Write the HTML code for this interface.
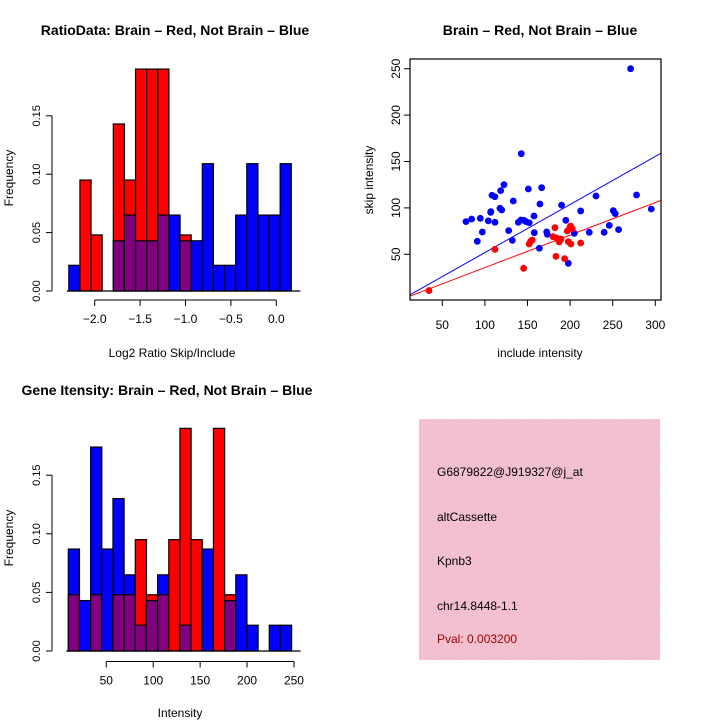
<!DOCTYPE html>
<html><head><meta charset="utf-8"><style>
html,body{margin:0;padding:0;background:#fff;}
svg{display:block;font-family:"Liberation Sans",sans-serif;}
</style></head><body>
<svg id="root" width="720" height="720" viewBox="0 0 720 720">
<text x="175" y="35" text-anchor="middle" font-size="14" font-weight="bold">RatioData: Brain – Red, Not Brain – Blue</text>
<text x="540" y="35" text-anchor="middle" font-size="14" font-weight="bold">Brain – Red, Not Brain – Blue</text>
<text x="167" y="395" text-anchor="middle" font-size="14" font-weight="bold">Gene Itensity: Brain – Red, Not Brain – Blue</text>
<text x="172" y="357" text-anchor="middle" font-size="12">Log2 Ratio Skip/Include</text>
<text transform="translate(13,178) rotate(-90)" text-anchor="middle" font-size="12">Frequency</text>
<text x="540" y="357" text-anchor="middle" font-size="12">include intensity</text>
<text transform="translate(373,180) rotate(-90)" text-anchor="middle" font-size="12">skip intensity</text>
<text x="180" y="717" text-anchor="middle" font-size="12">Intensity</text>
<text transform="translate(13,538) rotate(-90)" text-anchor="middle" font-size="12">Frequency</text>
<defs><pattern id="hatch" width="3" height="3" patternUnits="userSpaceOnUse"><rect width="3" height="3" fill="#f6bccd"/><rect width="1" height="1" fill="#e6ccd6"/><rect x="2" y="2" width="1" height="1" fill="#e6ccd6"/></pattern></defs>
<rect x="419" y="419" width="241" height="241" fill="url(#hatch)"/>
<text x="437" y="476" font-size="12">G6879822@J919327@j_at</text>
<text x="437" y="521" font-size="12">altCassette</text>
<text x="437" y="565" font-size="12">Kpnb3</text>
<text x="437" y="610" font-size="12">chr14.8448-1.1</text>
<text x="437" y="643" font-size="12" fill="#a00000">Pval: 0.003200</text>
<g id="g"></g>
</svg>
<script>
// Ratio histogram data
const ratioBinStart = -2.285, ratioBinWidth = 0.1225;
const ratioBlue = [0.022,0,0,0,0.043,0.065,0.043,0.043,0.065,0.065,0.043,0.043,0.109,0.022,0.022,0.065,0.109,0.065,0.065,0.109];
const ratioRed = [0,0.095,0.048,0,0.143,0.095,0.19,0.19,0.19,0,0.048,0,0,0,0,0,0,0,0,0];
const ratioXTicks = [-2.0,-1.5,-1.0,-0.5,0.0];
const ratioXLabels = ["\u22122.0","\u22121.5","\u22121.0","\u22120.5","0.0"];
const freqTicks = [0,0.05,0.10,0.15];
const freqLabels = ["0.00","0.05","0.10","0.15"];
// Intensity histogram data
const intBinStart = 9.5, intBinWidth = 11.9;
const intBlue = [0.087,0.043,0.174,0.087,0.13,0.065,0.022,0.043,0.065,0,0.022,0,0.087,0,0.043,0.065,0.022,0,0.022,0.022];
const intRed = [0.048,0,0.048,0,0.048,0.048,0.095,0.048,0.048,0.095,0.19,0.095,0,0.19,0.048,0,0,0,0,0];
const intXTicks = [50,100,150,200,250];
// Scatter data
const blueX = [77.8,84.4,94.6,91.1,97,104,106.7,107,108.3,111.8,111.8,118.5,122.4,117.7,119.7,127.9,133.3,132.2,142.7,139.2,142.3,145.8,148.2,152,151,157.6,158,163.9,164.6,166.6,172.5,173.2,190,195,197.9,204.9,212.4,222.5,230.4,240,246,250.7,253,256.9,271,278,295.3];
const blueY = [85.2,88,88.8,64,74,86,95.2,96,113.6,112,84.5,118.6,125,99.6,97.8,75.5,107.4,65,158.4,84.5,87,86.6,85.2,84,120.4,91.3,73.3,56.5,104.2,121.8,74.1,71.5,103,86.6,40.3,72.6,96.7,73.7,112.8,73.7,81.2,97,93.8,76.6,250,113.9,98.8];
const redX = [34.4,111.8,145.5,152,153.7,155.6,182.2,183.4,184.2,186.2,187.3,189.3,193.6,196.7,197.9,199.8,201,200.6,202.5,212.4,180];
const redY = [10.9,55.4,34.9,61.1,64,65.4,78.7,47.8,67.6,65.4,63.3,66.5,45.3,75.1,63.6,79.1,61.1,80.5,77.6,62.2,69];
const blueFit = [0.05, 0.518];
const redFit = [0.7, 0.35];
const scXTicks = [50,100,150,200,250,300];
const scYTicks = [50,100,150,200,250];

const NS="http://www.w3.org/2000/svg", G=document.getElementById('g');
function el(t,a,p){const e=document.createElementNS(NS,t);for(const k in a)e.setAttribute(k,a[k]);(p||G).appendChild(e);return e;}

function hist(o){
  const sx=v=>o.x0+(v-o.d0)*o.kx, sy=v=>o.base-v*o.ky;
  for(let i=0;i<o.blue.length;i++){
    const a=o.binStart+i*o.binW, b=a+o.binW;
    const x=sx(a), w=sx(b)-sx(a);
    const bl=o.blue[i], rd=o.red[i], mn=Math.min(bl,rd), mx=Math.max(bl,rd);
    if(mx<=0) continue;
    const top=el('rect',{x:x,y:sy(mx),width:w,height:sy(0)-sy(mx),fill:bl>=rd?'#0000ff':'#ff0000',stroke:'#000','stroke-width':1.2});
    
    
    if(mn>0){
      const p=el('rect',{x:x,y:sy(mn),width:w,height:sy(0)-sy(mn),fill:'#800080',stroke:'#000','stroke-width':1.2});
      
      
    }
  }
  el('line',{x1:sx(o.binStart)-2,x2:sx(o.binStart+o.blue.length*o.binW)+9,y1:o.base,y2:o.base,stroke:'#000','stroke-width':1.2});
  el('line',{x1:52,x2:52,y1:sy(0),y2:sy(0.15),stroke:'#000'});
  freqTicks.forEach((t,i)=>{el('line',{x1:46,x2:52,y1:sy(t),y2:sy(t),stroke:'#000'});
    const tx=el('text',{transform:`translate(40,${sy(t)}) rotate(-90)`,'text-anchor':'middle','font-size':11});tx.textContent=freqLabels[i];
    
    });
  const ax=o.xTicks;
  el('line',{x1:sx(ax[0]),x2:sx(ax[ax.length-1]),y1:o.axY,y2:o.axY,stroke:'#000'});
  ax.forEach((t,i)=>{el('line',{x1:sx(t),x2:sx(t),y1:o.axY,y2:o.axY+6,stroke:'#000'});
    const tx=el('text',{x:sx(t),y:o.axY+23,'text-anchor':'middle','font-size':12});tx.textContent=o.xLabels[i];
    
    });
}
hist({name:'ratio',blue:ratioBlue,red:ratioRed,binStart:ratioBinStart,binW:ratioBinWidth,x0:94.7,d0:-2.0,kx:90.8,base:291,ky:1168,axY:300,xTicks:ratioXTicks,xLabels:ratioXLabels});
hist({name:'intensity',blue:intBlue,red:intRed,binStart:intBinStart,binW:intBinWidth,x0:106.3,d0:50,kx:0.9383,base:651,ky:1172,axY:661.5,xTicks:intXTicks,xLabels:intXTicks.map(String)});

const px=v=>442.3+(v-50)*0.852, py=v=>254.3-(v-50)*0.928;
const clip=el('clipPath',{id:'sc'});el('rect',{x:410,y:59,width:251,height:241},clip);
const fits=[[blueFit,'#0000ff','blue-fit-line'],[redFit,'#ff0000','red-fit-line']];
fits.forEach(f=>{const l=el('line',{x1:px(0),y1:py(f[0][0]),x2:px(320),y2:py(f[0][0]+f[0][1]*320),stroke:f[1],'stroke-width':1,'clip-path':'url(#sc)'});
  
  });
blueX.forEach((x,i)=>{const c=el('circle',{cx:px(x),cy:py(blueY[i]),r:3.4,fill:'#0000ff'});
  
  });
redX.forEach((x,i)=>{const c=el('circle',{cx:px(x),cy:py(redY[i]),r:3.4,fill:'#ff0000'});
  
  });
const box=el('rect',{x:410,y:59,width:251,height:241,fill:'none',stroke:'#000','stroke-width':1.2});


scXTicks.forEach(t=>{el('line',{x1:px(t),x2:px(t),y1:300,y2:306,stroke:'#000'});
  const tx=el('text',{x:px(t),y:329,'text-anchor':'middle','font-size':12});tx.textContent=t;
  
  });
scYTicks.forEach(t=>{el('line',{x1:404,x2:410,y1:py(t),y2:py(t),stroke:'#000'});
  const tx=el('text',{transform:`translate(400,${py(t)}) rotate(-90)`,'text-anchor':'middle','font-size':12});tx.textContent=t;
  
  });
</script>
</body></html>
